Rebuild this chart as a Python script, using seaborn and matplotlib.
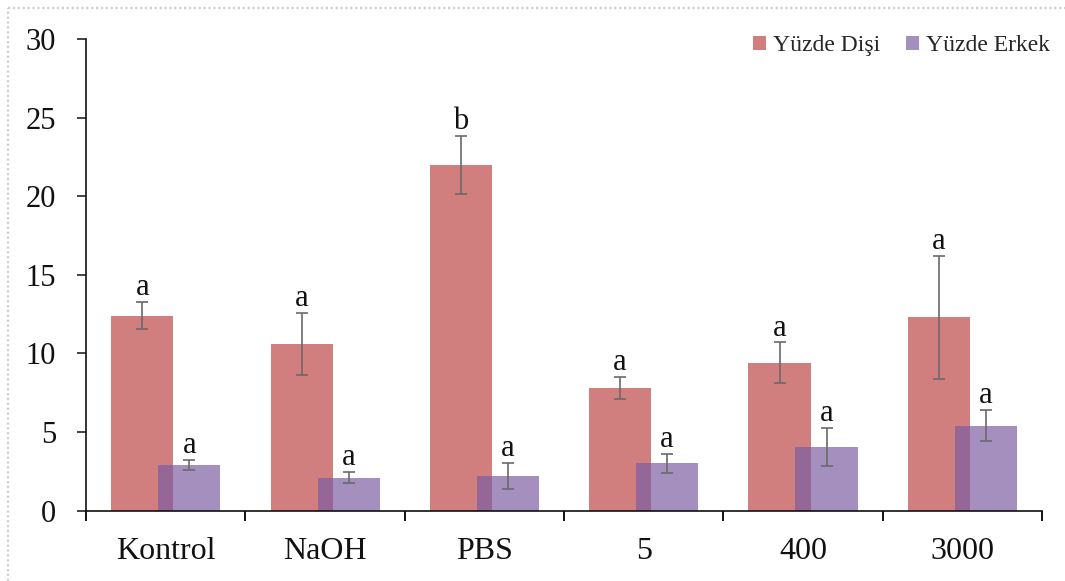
import numpy as np
import pandas as pd
import seaborn as sns
import matplotlib
matplotlib.use("Agg")
import matplotlib.pyplot as plt
from matplotlib.lines import Line2D
from matplotlib.patches import Patch

# Groups and measured percentages (mean ± error) for each sex
groups = ["Kontrol", "NaOH", "PBS", "5", "400", "3000"]
female_mean = [12.4, 10.6, 22.0, 7.8, 9.4, 12.3]
female_err = [0.85, 2.0, 1.85, 0.7, 1.3, 3.9]
male_mean = [2.9, 2.1, 2.2, 3.0, 4.05, 5.4]
male_err = [0.3, 0.35, 0.8, 0.63, 1.2, 1.0]
female_letters = ["a", "a", "b", "a", "a", "a"]
male_letters = ["a", "a", "a", "a", "a", "a"]
series_names = ["Yüzde Dişi", "Yüzde Erkek"]

red = "#D17F7E"
purple = "#7B5DA1"
purple_alpha = 0.69

df = pd.DataFrame({
    "group": groups * 2,
    "series": [series_names[0]] * len(groups) + [series_names[1]] * len(groups),
    "value": female_mean + male_mean,
})

sns.set_theme(style="white")
plt.rcParams["font.family"] = ["Liberation Serif", "DejaVu Serif"]

fig = plt.figure(figsize=(10.65, 5.81), dpi=100)
ax = fig.add_axes([0.0808, 0.1213, 0.8976, 0.8111])

sns.barplot(data=df, x="group", y="value", hue="series", order=groups,
            hue_order=series_names, palette=[red, purple], errorbar=None,
            width=0.59, dodge=True, gap=-0.32, saturation=1, ax=ax,
            legend=False, linewidth=0)

n = len(groups)
patches = ax.patches[: 2 * n]
female_patches = patches[:n]
male_patches = patches[n:]
for p in male_patches:
    p.set_alpha(purple_alpha)

def annotate(patches_, means, errs, letters):
    xs = [p.get_x() + p.get_width() / 2 for p in patches_]
    ax.errorbar(xs, means, yerr=errs, fmt="none", ecolor="#6a6a6a",
                elinewidth=1.2, capsize=4, capthick=1.2, zorder=5)
    for x, m, e, t in zip(xs, means, errs, letters):
        ax.annotate(t, (x, m + e), xytext=(0, 5), textcoords="offset points",
                    ha="center", va="baseline", fontsize=22, color="#111111")

annotate(female_patches, female_mean, female_err, female_letters)
annotate(male_patches, male_mean, male_err, male_letters)

ax.set_ylim(0, 30)
ax.set_xlim(-0.5, n - 0.5)
ax.set_yticks(np.arange(0, 31, 5))
ax.set_xticks(np.arange(-0.5, n, 1.0))
ax.set_xticklabels([])
ax.set_xticks(np.arange(n), minor=True)
ax.set_xticklabels(groups, minor=True)
ax.set_xlabel("")
ax.set_ylabel("")

for side in ["top", "right"]:
    ax.spines[side].set_visible(False)
for side in ["left", "bottom"]:
    ax.spines[side].set_color("#111111")
    ax.spines[side].set_linewidth(1.2)

ax.tick_params(axis="y", which="major", direction="out", length=6.5, width=1.1,
               color="#111111", pad=15, labelsize=22, left=True)
ax.tick_params(axis="x", which="major", direction="out", length=7, width=1.4,
               color="#111111", bottom=True)
ax.tick_params(axis="x", which="minor", length=0, pad=19, labelsize=23)
for lab in ax.get_yticklabels() + ax.get_xticklabels(minor=True):
    lab.set_color("#111111")

handles = [Patch(facecolor=red, edgecolor="none"),
           Patch(facecolor=purple, alpha=purple_alpha, edgecolor="none")]
fig.legend(handles, series_names, loc="upper right",
           bbox_to_anchor=(1050 / 1065, 1 - 35 / 581), ncol=2, frameon=False,
           fontsize=17, handlelength=0.55, handleheight=0.55,
           handletextpad=0.3, columnspacing=1.1, borderpad=0, borderaxespad=0)

# Dotted frame along the top and left edges
fig.add_artist(Line2D([8 / 1065, 1], [1 - 8 / 581, 1 - 8 / 581],
                      transform=fig.transFigure, color="#cfcfcf",
                      linestyle=(0, (1, 1.2)), linewidth=1.6))
fig.add_artist(Line2D([8 / 1065, 8 / 1065], [0, 1 - 8 / 581],
                      transform=fig.transFigure, color="#cfcfcf",
                      linestyle=(0, (1, 1.2)), linewidth=1.6))

fig.savefig("out.png", dpi=100, facecolor="white")
